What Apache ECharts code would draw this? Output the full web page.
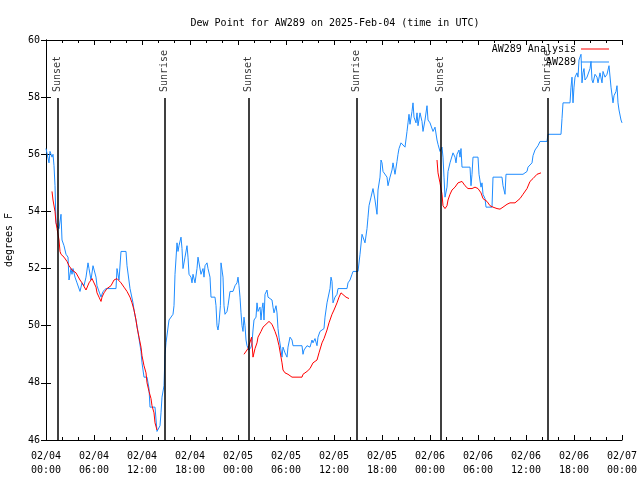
<!DOCTYPE html>
<html>
<head>
<meta charset="utf-8">
<script src="https://cdn.jsdelivr.net/npm/echarts@6/dist/echarts.min.js"></script>
<style>html,body{margin:0;padding:0;background:#fff}#c{width:640px;height:480px}</style>
</head>
<body>
<div id="c"></div>
<script>
// hours since 2025-02-04 00:00 UTC
var obsHours = [0,0.25,0.375,0.5,0.75,0.875,1.0,1.125,1.25,1.375,1.5,1.625,1.875,2.0,2.25,2.5,2.75,2.875,3.125,3.25,3.375,3.625,3.875,4.25,4.5,4.75,5.0,5.25,5.375,5.625,5.875,6.25,6.375,6.875,7.125,7.5,8.125,8.75,8.875,9.125,9.375,10.0,10.125,10.5,10.875,11.0,11.375,11.875,12.0,12.25,12.625,12.875,13.0,13.625,13.875,14.0,14.25,14.375,14.5,14.69,14.75,14.875,15.0,15.25,15.375,15.875,16.0,16.125,16.375,16.5,16.625,16.875,17.0,17.125,17.375,17.625,17.75,17.875,18.125,18.25,18.375,18.625,18.875,19.0,19.125,19.375,19.625,19.75,19.875,20.125,20.25,20.5,20.625,20.875,21.125,21.25,21.375,21.5,21.625,21.8,21.875,22.125,22.25,22.375,22.625,22.75,23.0,23.375,23.625,23.875,24.0,24.125,24.25,24.375,24.5,24.625,24.75,24.875,25.0,25.125,25.375,25.625,25.75,25.875,26.0,26.25,26.375,26.5,26.75,26.875,27.0,27.125,27.25,27.375,27.625,27.75,28.0,28.25,28.375,28.5,28.75,28.875,29.0,29.125,29.375,29.5,29.625,29.875,30.125,30.25,30.5,30.75,30.875,31.375,32.0,32.125,32.25,32.625,33.0,33.25,33.375,33.625,33.875,34.0,34.25,34.5,34.75,34.875,35.125,35.25,35.5,35.625,35.75,35.875,36.125,36.375,36.5,37.625,37.75,38.0,38.25,38.375,39.0,39.25,39.5,39.625,39.875,40.125,40.25,40.375,40.625,40.75,40.875,41.125,41.375,41.5,41.75,41.875,42.0,42.125,42.375,42.625,42.75,43.0,43.25,43.375,43.625,43.875,44.0,44.125,44.375,44.625,44.875,45.125,45.25,45.375,45.5,45.75,45.875,46.0,46.25,46.375,46.5,46.75,47.0,47.125,47.375,47.625,47.75,48.0,48.25,48.375,48.625,48.875,49.0,49.25,49.5,49.625,49.75,49.875,50.125,50.25,50.5,50.75,50.875,51.125,51.25,51.375,51.625,51.75,51.875,52.0,53.0,53.125,53.25,53.375,54.0,54.125,54.375,54.5,54.625,54.875,55.0,55.75,55.875,57.0,57.125,57.375,57.5,59.625,59.875,60.125,60.25,60.5,60.75,60.875,61.125,61.375,61.5,61.75,62.625,62.75,64.375,64.5,64.625,65.5,65.625,65.75,65.875,66.0,66.125,66.375,66.5,66.625,66.875,67.0,67.125,67.25,67.375,67.625,67.75,68.0,68.125,68.25,68.375,68.625,68.875,69.0,69.25,69.5,69.625,69.875,70.125,70.25,70.375,70.625,70.875,71.0,71.25,71.375,71.5,71.625,71.875,72.0];
var obsDew = [56.2,56.2,55.7,56.1,55.9,56.0,55.6,54.9,53.6,53.5,53.5,53.4,53.9,53.0,52.8,52.5,52.4,51.6,52.0,51.8,52.0,51.7,51.5,51.2,51.5,51.4,51.7,52.2,52.0,51.6,52.1,51.7,51.4,51.0,51.2,51.3,51.3,51.3,52.0,51.6,52.6,52.6,52.1,51.3,50.8,50.55,50.0,49.1,48.7,48.2,48.2,47.8,47.15,47.15,46.3,46.35,46.5,46.95,47.5,47.5,47.9,49.0,49.4,49.4,50.2,50.4,50.7,51.8,52.9,52.6,52.8,53.1,52.7,52.0,52.4,52.8,52.4,51.8,51.7,51.5,51.8,51.5,52.0,52.4,52.4,51.8,52.0,51.7,52.1,52.2,52.0,51.7,51.0,51.05,51.0,50.7,50.0,49.85,50.1,50.7,52.2,51.7,50.7,50.4,50.5,50.7,51.2,51.2,51.4,51.5,51.7,51.4,51.0,50.45,50.0,49.8,50.3,50.0,49.5,49.3,49.15,49.25,49.4,49.85,50.2,50.3,50.8,50.5,50.65,50.2,50.6,50.8,50.2,51.1,51.25,51.0,51.0,50.9,50.65,50.45,50.7,50.45,49.9,49.6,49.15,48.9,49.25,49.05,48.9,49.25,49.6,49.5,49.3,49.3,49.3,49.0,49.15,49.3,49.25,49.5,49.4,49.55,49.3,49.6,49.8,49.85,49.9,50.3,50.8,50.8,51.3,51.7,51.55,50.8,51.0,51.1,51.3,51.3,51.5,51.6,51.8,51.9,51.9,52.5,53.2,53.2,52.9,53.4,53.8,54.2,54.5,54.55,54.8,54.4,53.9,54.75,55.2,55.8,55.7,55.4,55.45,55.2,54.9,55.2,55.45,55.7,55.3,55.75,56.0,56.2,56.4,56.4,56.25,56.8,57.1,57.4,57.05,57.5,57.8,57.3,57.1,57.45,57.0,57.45,57.15,56.8,57.2,57.7,57.2,57.1,57.15,56.8,56.95,56.5,56.35,56.1,56.25,55.9,55.2,54.5,54.85,55.4,55.7,55.75,56.05,55.9,55.7,56.0,56.15,55.9,56.2,55.55,55.55,54.9,55.3,55.9,55.9,55.3,54.85,55.0,54.6,54.45,54.15,54.15,55.2,55.2,54.9,54.6,55.3,55.3,55.35,55.4,55.55,55.55,55.7,55.95,56.15,56.2,56.3,56.45,56.45,56.7,56.7,57.25,57.8,57.8,58.35,58.7,57.8,58.35,58.7,58.85,58.7,59.3,59.5,58.5,58.85,59.0,58.6,58.7,58.7,59.0,59.25,58.6,58.5,58.8,58.7,58.5,58.85,58.5,58.9,58.7,58.8,58.95,59.1,58.35,57.8,58.05,58.2,58.4,57.8,57.55,57.2,57.1];

var anaHours1 = [0.75,0.875,1.125,1.25,1.375,1.625,1.75,1.875,2.25,2.625,2.875,3.25,3.75,3.875,4.25,4.5,5.0,5.375,5.75,6.0,6.25,6.375,6.625,6.875,7.0,7.25,7.625,8.125,8.5,8.875,9.375,9.75,10.125,10.5,10.75,11.0,11.25,11.375,11.625,11.875,12.0,12.25,12.5,12.625,12.875,13.125,13.25,13.5,13.625,13.875];
var anaDew1 = [54.7,54.4,54.0,53.6,53.4,53.0,52.6,52.5,52.4,52.25,52.1,51.95,51.85,51.8,51.6,51.5,51.25,51.5,51.65,51.6,51.35,51.15,51.0,50.85,51.0,51.15,51.3,51.4,51.6,51.65,51.5,51.35,51.2,51.0,50.8,50.55,50.2,49.95,49.6,49.25,48.95,48.6,48.35,48.0,47.7,47.45,47.2,46.95,46.6,46.35];
var anaHours2 = [24.75,25.25,25.7,25.875,26.125,26.375,26.5,26.875,27.125,27.5,27.875,28.25,28.625,28.875,29.125,29.375,29.5,29.625,29.875,30.25,30.75,31.375,32.0,32.125,32.625,33.0,33.375,33.875,34.125,34.5,34.75,35.125,35.375,35.75,36.0,36.375,36.625,36.875,37.125,37.5,37.875];
var anaDew2 = [49.0,49.2,49.6,48.9,49.2,49.4,49.6,49.8,49.95,50.05,50.15,50.05,49.8,49.6,49.3,48.9,48.7,48.45,48.35,48.3,48.2,48.2,48.2,48.3,48.4,48.5,48.7,48.8,49.05,49.4,49.55,49.85,50.1,50.4,50.55,50.8,51.0,51.15,51.15,51.0,50.95];
var anaHours3 = [48.875,49.0,49.25,49.5,49.625,49.875,50.125,50.25,50.5,50.75,51.125,51.5,52.0,52.375,52.75,53.25,53.625,54.0,54.375,54.625,55.125,55.5,55.875,56.375,56.75,57.125,57.625,58.0,58.625,58.875,59.25,59.625,60.125,60.5,60.875,61.375,61.5,61.875];
var anaDew3 = [55.8,55.35,55.0,54.6,54.2,54.1,54.2,54.4,54.6,54.75,54.85,55.0,55.05,54.9,54.8,54.8,54.85,54.8,54.65,54.45,54.35,54.2,54.15,54.1,54.08,54.15,54.25,54.3,54.3,54.35,54.45,54.6,54.8,55.05,55.15,55.3,55.35,55.35];

var sunHours = [1.41, 14.79, 25.29, 38.79, 49.29, 62.66];
var sunLabels = ['Sunset', 'Sunrise', 'Sunset', 'Sunrise', 'Sunset', 'Sunrise'];
var sunLineTop = 57.97;

var dayLabels = ['02/04', '02/05', '02/06', '02/07'];

function zip(a, b) { return a.map(function (v, i) { return [v, b[i]]; }); }
var FONT = 'DejaVu Sans Mono';

var anaData = zip(anaHours1, anaDew1).concat([[null, null]], zip(anaHours2, anaDew2), [[null, null]], zip(anaHours3, anaDew3));
anaData = anaData.map(function (p) { return p[0] === null ? '-' : p; });

var chart = echarts.init(document.getElementById('c'), null, { renderer: 'canvas' });
var option = {
  animation: false,
  backgroundColor: '#fff',
  textStyle: { fontFamily: FONT, fontSize: 10, color: '#000' },
  title: {
    text: 'Dew Point for AW289 on 2025-Feb-04 (time in UTC)',
    left: 330, top: 13, textAlign: 'center',
    textStyle: { fontFamily: FONT, fontSize: 10, fontWeight: 'normal', color: '#000' }
  },
  legend: [
    { data: ['AW289 Analysis'], right: 31, top: 44, orient: 'vertical', align: 'right', itemWidth: 28, itemHeight: 1, itemGap: 2,
      icon: 'rect', textStyle: { fontFamily: FONT, fontSize: 10, color: '#000' }, padding: 0 },
    { data: ['AW289'], right: 31, top: 57, orient: 'vertical', align: 'right', itemWidth: 28, itemHeight: 1, itemGap: 2,
      icon: 'rect', textStyle: { fontFamily: FONT, fontSize: 10, color: '#000' }, padding: 0 }
  ],
  grid: { left: 46, right: 18, top: 40, bottom: 40, containLabel: false, outerBoundsMode: 'none' },
  xAxis: [{
    type: 'value', min: 0, max: 72, interval: 6,
    axisLine: { lineStyle: { color: '#000', width: 1 } },
    axisTick: { inside: true, length: 5, lineStyle: { color: '#000' } },
    minorTick: { show: true, splitNumber: 3, length: 3, lineStyle: { color: '#000' } },
    splitLine: { show: false },
    axisLabel: {
      color: '#000', fontFamily: FONT, fontSize: 10, lineHeight: 14, margin: 9,
      formatter: function (v) {
        var d = Math.floor(v / 24), h = v % 24;
        return dayLabels[d] + '\n' + (h < 10 ? '0' + h : h) + ':00';
      }
    }
  }, {
    type: 'value', min: 0, max: 72, interval: 6, position: 'top',
    axisLine: { lineStyle: { color: '#000', width: 1 } },
    axisTick: { inside: true, length: 5, lineStyle: { color: '#000' } },
    minorTick: { show: true, splitNumber: 3, length: 3, lineStyle: { color: '#000' } },
    splitLine: { show: false }, axisLabel: { show: false }
  }],
  yAxis: [{
    type: 'value', min: 46, max: 60, interval: 2,
    name: 'degrees F', nameLocation: 'middle', nameGap: 32, nameRotate: 90,
    nameTextStyle: { fontFamily: FONT, fontSize: 10, color: '#000' },
    axisLine: { show: true, lineStyle: { color: '#000', width: 1 } },
    axisTick: { show: true, inside: true, length: 5, lineStyle: { color: '#000' } },
    splitLine: { show: false },
    axisLabel: { color: '#000', fontFamily: FONT, fontSize: 10, margin: 6 }
  }, {
    type: 'value', min: 46, max: 60, interval: 2, position: 'right',
    axisLine: { show: true, lineStyle: { color: '#000', width: 1 } },
    axisTick: { show: true, inside: true, length: 5, lineStyle: { color: '#000' } },
    splitLine: { show: false }, axisLabel: { show: false }
  }],
  series: [
    {
      name: 'AW289 Analysis', type: 'line', data: anaData, showSymbol: false, symbol: 'none',
      connectNulls: false, color: '#ff0000', lineStyle: { width: 1, color: '#ff0000' }, z: 3
    },
    {
      name: 'AW289', type: 'line', data: zip(obsHours, obsDew), showSymbol: false, symbol: 'none',
      color: '#1e8cff', lineStyle: { width: 1, color: '#1e8cff' }, z: 2
    },
    {
      name: 'sun', type: 'scatter', symbolSize: 0, z: 1,
      data: sunHours.map(function (h, i) { return { value: [h, sunLineTop], name: sunLabels[i] }; }),
      label: {
        show: true, formatter: '{b}', position: 'top', distance: 6, rotate: 90,
        align: 'left', verticalAlign: 'middle',
        fontFamily: FONT, fontSize: 10, color: '#000'
      },
      markLine: {
        silent: true, symbol: 'none', animation: false,
        label: { show: false },
        lineStyle: { color: '#000', width: 1.5, type: 'solid' },
        data: sunHours.map(function (h) { return [{ coord: [h, 46] }, { coord: [h, sunLineTop] }]; })
      }
    }
  ]
};
chart.setOption(option);
</script>
</body>
</html>
